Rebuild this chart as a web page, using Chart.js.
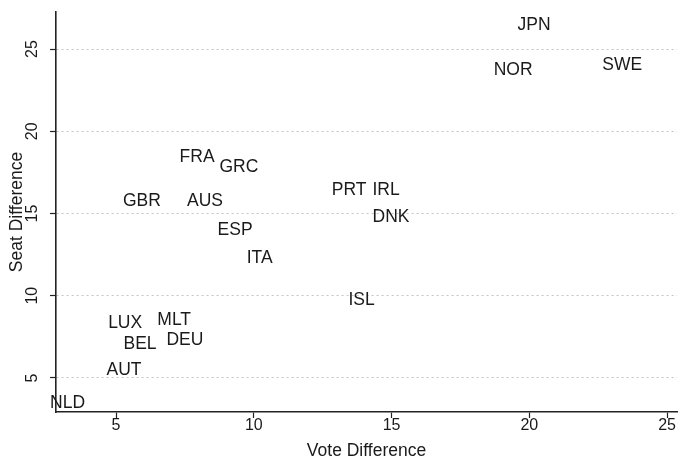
<!DOCTYPE html>
<html>
<head>
<meta charset="utf-8">
<script src="https://cdn.jsdelivr.net/npm/chart.js@4.4.1/dist/chart.umd.min.js"></script>
<style>
  html, body { margin: 0; padding: 0; background: #ffffff; }
  #wrap { width: 678px; height: 459px; position: relative; }
</style>
</head>
<body>
<div id="wrap"><canvas id="c" width="678" height="459"></canvas></div>
<script>
const countries = ['JPN','NOR','SWE','FRA','GRC','GBR','AUS','ESP','ITA','PRT','IRL','DNK','ISL','LUX','MLT','BEL','DEU','AUT','NLD'];
const voteDiff  = [20.17, 19.41, 23.37, 7.94, 9.46, 5.94, 8.23, 9.32, 10.21, 13.46, 14.80, 14.98, 13.91, 5.33, 7.11, 5.87, 7.50, 5.29, 3.24];
const seatDiff  = [26.46, 23.72, 24.03, 18.40, 17.83, 15.76, 15.76, 14.00, 12.29, 16.43, 16.43, 14.79, 9.74, 8.34, 8.53, 7.07, 7.31, 5.49, 3.48];
const xTicks = [5, 10, 15, 20, 25];
const yTicks = [5, 10, 15, 20, 25];
const xTitle = 'Vote Difference';
const yTitle = 'Seat Difference';

const FONT = '"Liberation Sans", Arial, Helvetica, sans-serif';
const INK = '#1a1a1a';

const textPlugin = {
  id: 'textPlugin',
  beforeDraw(chart) {
    const ctx = chart.ctx;
    ctx.save();
    ctx.fillStyle = '#ffffff';
    ctx.fillRect(0, 0, chart.width, chart.height);
    ctx.restore();
  },
  afterDraw(chart) {
    const ctx = chart.ctx;
    const xs = chart.scales.x, ys = chart.scales.y;
    const area = chart.chartArea;
    ctx.save();
    ctx.fillStyle = INK;
    // x tick labels
    ctx.font = '16px ' + FONT;
    ctx.textAlign = 'center';
    ctx.textBaseline = 'middle';
    xTicks.forEach(v => ctx.fillText(String(v), xs.getPixelForValue(v), area.bottom + 14));
    // y tick labels (rotated)
    yTicks.forEach(v => {
      ctx.save();
      ctx.translate(area.left - 23.5, ys.getPixelForValue(v));
      ctx.rotate(-Math.PI / 2);
      ctx.fillText(String(v), 0, 0);
      ctx.restore();
    });
    // axis titles
    ctx.font = '17.5px ' + FONT;
    ctx.fillText(xTitle, (area.left + area.right) / 2, area.bottom + 39);
    ctx.save();
    ctx.translate(area.left - 39, (area.top + area.bottom) / 2);
    ctx.rotate(-Math.PI / 2);
    ctx.fillText(yTitle, 0, 0);
    ctx.restore();
    ctx.restore();
  },
  afterDatasetsDraw(chart) {
    const ctx = chart.ctx;
    const meta = chart.getDatasetMeta(0);
    ctx.save();
    ctx.fillStyle = INK;
    ctx.font = '17.5px ' + FONT;
    ctx.textAlign = 'center';
    ctx.textBaseline = 'middle';
    meta.data.forEach((el, i) => {
      ctx.fillText(countries[i], el.x, el.y);
    });
    ctx.restore();
  }
};

new Chart(document.getElementById('c'), {
  type: 'scatter',
  data: {
    datasets: [{
      data: voteDiff.map((v, i) => ({ x: v, y: seatDiff[i] })),
      pointRadius: 0,
      pointHoverRadius: 0
    }]
  },
  options: {
    responsive: false,
    animation: false,
    events: [],
    layout: { padding: { top: 12, right: 1, left: 0, bottom: 0 } },
    plugins: { legend: { display: false }, tooltip: { enabled: false } },
    scales: {
      x: {
        type: 'linear',
        min: 2.82,
        max: 25.36,
        afterFit(s) { s.height = 47; },
        afterBuildTicks(s) { s.ticks = xTicks.map(v => ({ value: v })); },
        ticks: { display: false, includeBounds: false },
        grid: { display: true, drawOnChartArea: false, drawTicks: true, tickLength: 6, tickColor: '#222', tickWidth: 1.2 },
        border: { display: true, color: '#222', width: 1.6 },
        title: { display: false }
      },
      y: {
        type: 'linear',
        min: 2.93,
        max: 27.25,
        afterFit(s) { s.width = 56; },
        afterBuildTicks(s) { s.ticks = yTicks.map(v => ({ value: v })); },
        ticks: { display: false, includeBounds: false },
        grid: { display: true, drawOnChartArea: true, drawTicks: true, tickLength: 6, color: '#c4c4c4', lineWidth: 1, tickColor: '#222', tickWidth: 1.2 },
        border: { display: true, color: '#222', width: 1.6, dash: [2, 3] },
        title: { display: false }
      }
    }
  },
  plugins: [textPlugin]
});
</script>
</body>
</html>
